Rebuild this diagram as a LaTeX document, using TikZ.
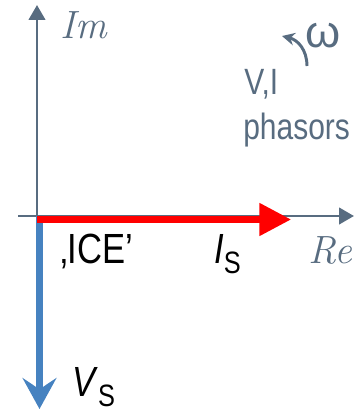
\documentclass[tikz,border=0pt]{standalone}
\usepackage{fontspec}
\usepackage{tikz}
\usetikzlibrary{arrows.meta, positioning, calc}
\newfontfamily\narrowsans[FakeStretch=0.82]{Liberation Sans}
\newfontfamily\plainsans{Liberation Sans}
\definecolor{cAxis}{RGB}{88,108,128}
\definecolor{cCurrent}{RGB}{255,0,0}
\definecolor{cVolt}{RGB}{70,130,192}
\tikzset{
	axis/.style     ={line width=2.1pt, cAxis, -{Triangle[length=10.5pt, width=11.5pt]}},
	% phasor arrows
	curphasor/.style={line width=4.3pt, cCurrent, -{Triangle[length=22.5pt, width=22.5pt]}},
	volphasor/.style={line width=4.3pt, cVolt, -{Stealth[length=22pt, width=24pt, inset=8pt]}},
	rotarrow/.style ={line width=2.1pt, cAxis, -{Stealth[length=9pt, width=9pt]}},
	% labels
	hand/.style     ={inner sep=0pt, cAxis, font=\fontsize{28}{30}\selectfont\itshape},
	note/.style     ={inner sep=0pt, cAxis, font=\fontsize{26}{30}\selectfont\narrowsans},
	phlabel/.style  ={inner sep=0pt, black, font=\fontsize{30}{34}\selectfont\narrowsans},
}
\newcommand{\phsub}[2]{\textit{#1}\raisebox{-0.25em}{\fontsize{22}{24}\selectfont #2}}

\begin{document}
\begin{tikzpicture}[x=0.025cm, y=-0.025cm]
	\useasboundingbox (0,0) rectangle (354,415);
	% axes
	\coordinate (o) at (37,216);
	\coordinate (imtip) at (37,5);
	\coordinate (rest) at (18,216);
	\coordinate (retip) at (354,216);
	\draw[axis] (o) -- (imtip);
	\draw[axis] (rest) -- (retip);
	\node[hand, anchor=base west] (im) at (60,38) {Im};
	\node[hand, anchor=base west] (re) at (308,263) {Re};
	% phasors
	\coordinate (is0) at (37,219.5);
	\coordinate (is1) at (291,219.5);
	\coordinate (vs0) at (39.5,216);
	\coordinate (vs1) at (39.5,409);
	\draw[volphasor] (vs0) -- (vs1);
	\draw[curphasor] (is0) -- (is1);
	\node[phlabel, anchor=base west] (is) at (214,263) {\phsub{I}{S}};
	\node[phlabel, anchor=base west] (vs) at (72,396) {\phsub{V}{S}};
	\node[phlabel, anchor=base west] (ice) at (60,263) {‚ICE’};
	% rotation
	\node[inner sep=0pt, cAxis, font=\fontsize{32}{34}\selectfont\plainsans] (om) at (323,36) {ω};
	\coordinate (rot0) at (307,66);
	\coordinate (rot1) at (282,36);
	\draw[rotarrow] (rot0) .. controls (307,50) and (298,40) .. (rot1);
	\node[note, anchor=base west] (vi) at (244,94) {V,I};
	\node[note, anchor=base west] (ph) at (243,139) {phasors};
\end{tikzpicture}
\end{document}
